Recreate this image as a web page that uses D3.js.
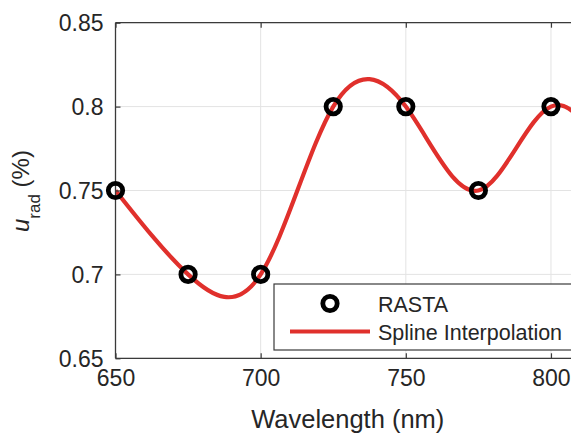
<!DOCTYPE html>
<html><head><meta charset="utf-8">
<script src="https://cdn.jsdelivr.net/npm/d3@7"></script>
<style>
html,body{margin:0;padding:0;background:#fff;}
svg{display:block;font-family:"Liberation Sans",Arial,sans-serif;}
</style></head>
<body>
<svg id="chart" width="571" height="434"></svg>
<script>
const wavelengths = [650, 675, 700, 725, 750, 775, 800, 825];
const uRad = [0.75, 0.70, 0.70, 0.80, 0.80, 0.75, 0.80, 0.75];
const xTicks = [650, 700, 750, 800];
const yTicks = [0.65, 0.7, 0.75, 0.8, 0.85];
const legendLabels = ["RASTA", "Spline Interpolation"];

const svg = d3.select("#chart");
const L = 115.5, R = 580, T = 22.7, B = 358.3;
const x = d3.scaleLinear().domain([650, 810]).range([L, R]);
const y = d3.scaleLinear().domain([0.65, 0.85]).range([B, T]);
const axisCol = "#3a3a3a", gridCol = "#e3e3e3", red = "#e0302c";
const pts = wavelengths.map((w, i) => ({w, v: uRad[i]}));

svg.append("defs").append("clipPath").attr("id", "clip")
  .append("rect").attr("x", L).attr("y", T).attr("width", R - L).attr("height", B - T);

// grid
const g = svg.append("g");
g.selectAll(".gx").data(xTicks).join("line")
  .attr("x1", d => x(d)).attr("x2", d => x(d)).attr("y1", T).attr("y2", B)
  .attr("stroke", gridCol).attr("stroke-width", 1);
g.selectAll(".gy").data(yTicks).join("line")
  .attr("x1", L).attr("x2", R).attr("y1", d => y(d)).attr("y2", d => y(d))
  .attr("stroke", gridCol).attr("stroke-width", 1);

// curve
const line = d3.line().x(d => x(d.w)).y(d => y(d.v)).curve(d3.curveNatural);
svg.append("path").datum(pts).attr("d", line).attr("clip-path", "url(#clip)")
  .attr("fill", "none").attr("stroke", red).attr("stroke-width", 4.2);

// axes
const xAxisB = d3.axisBottom(x).tickValues(xTicks).tickSize(-5).tickPadding(11).tickFormat(d3.format("d"));
const xAxisT = d3.axisTop(x).tickValues(xTicks).tickSize(-5).tickFormat("");
const yAxisL = d3.axisLeft(y).tickValues(yTicks).tickSize(-5).tickPadding(12).tickFormat(d => String(+d.toFixed(2)));
function styleAxis(sel) {
  sel.select(".domain").remove();
  sel.selectAll(".tick line").attr("stroke", axisCol).attr("stroke-width", 1.2);
  sel.selectAll(".tick text").attr("fill", "#262626").attr("font-size", 23)
    .attr("font-family", "Liberation Sans, Arial, sans-serif");
}
svg.append("g").attr("transform", `translate(0,${B})`).call(xAxisB).call(styleAxis)
  .selectAll(".tick text").attr("dy", "0.71em");
svg.append("g").attr("transform", `translate(0,${T})`).call(xAxisT).call(styleAxis);
svg.append("g").attr("transform", `translate(${L},0)`).call(yAxisL).call(styleAxis)
  .selectAll(".tick text").attr("dy", "0.36em");

// box lines
svg.append("line").attr("x1", L).attr("x2", R).attr("y1", T).attr("y2", T).attr("stroke", axisCol).attr("stroke-width", 1.3);
svg.append("line").attr("x1", L).attr("x2", R).attr("y1", B).attr("y2", B).attr("stroke", axisCol).attr("stroke-width", 1.3);
svg.append("line").attr("x1", L).attr("x2", L).attr("y1", T).attr("y2", B).attr("stroke", axisCol).attr("stroke-width", 1.3);

// markers
svg.append("g").selectAll("circle").data(pts.filter(d => d.w <= 810)).join("circle")
  .attr("cx", d => x(d.w)).attr("cy", d => y(d.v)).attr("r", 7.2)
  .attr("fill", "none").attr("stroke", "#000").attr("stroke-width", 4.8);

// labels
svg.append("text").attr("x", (L + R) / 2).attr("y", 428).attr("text-anchor", "middle")
  .attr("font-size", 25.5).attr("fill", "#262626").text("Wavelength (nm)");
const yl = svg.append("text").attr("transform", "translate(29,232) rotate(-90)")
  .attr("font-size", 24).attr("fill", "#262626");
yl.append("tspan").attr("font-style", "italic").text("u");
yl.append("tspan").attr("font-size", 17).attr("dy", 11).text("rad");
yl.append("tspan").attr("dy", -11).text(" (%)");

// legend
const lg = svg.append("g");
lg.append("rect").attr("x", 274).attr("y", 284).attr("width", 303).attr("height", 66)
  .attr("fill", "#fff").attr("stroke", axisCol).attr("stroke-width", 1.2);
lg.append("circle").attr("cx", 330).attr("cy", 303.5).attr("r", 7.2)
  .attr("fill", "none").attr("stroke", "#000").attr("stroke-width", 4.8);
lg.append("line").attr("x1", 290).attr("x2", 370).attr("y1", 331.5).attr("y2", 331.5)
  .attr("stroke", red).attr("stroke-width", 4.2);
lg.selectAll("text").data(legendLabels).join("text")
  .attr("x", 378).attr("y", (d, i) => 311.5 + i * 28.5)
  .attr("font-size", 21.5).attr("fill", "#262626").text(d => d);
</script>
</body></html>
